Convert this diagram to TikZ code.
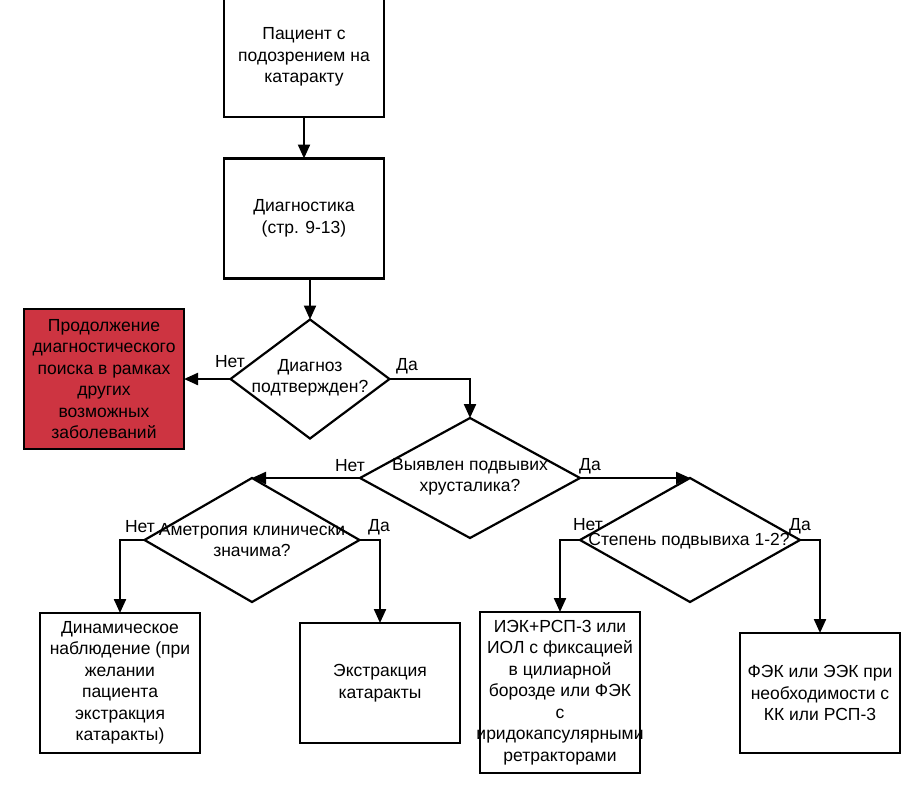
\documentclass[tikz,border=0pt]{standalone}
\usepackage{fontspec}
\setmainfont{Liberation Sans}
\usetikzlibrary{shapes.geometric,arrows.meta}
\definecolor{redbox}{RGB}{205,52,65}
\begin{document}
\begin{tikzpicture}[x=1pt,y=-1pt,
  every node/.style={font=\fontsize{17.5}{21.5}\selectfont},
  box/.style={draw=black,line width=2.2pt,minimum width=160pt,inner sep=0pt,outer sep=0pt,align=center},
  dia/.style={draw=black,line width=2.2pt,diamond,inner sep=0pt,outer sep=0pt},
  dtext/.style={align=center,inner sep=0pt},
  lbl/.style={inner sep=0pt},
  conn/.style={draw=black,line width=2.2pt,-{Triangle[length=14pt,width=12pt]}}
]
\useasboundingbox (0,0) rectangle (907,787);
% boxes
\node[box,minimum height=120pt] (b1) at (304,57) {Пациент с\\подозрением на\\катаракту};
\node[box,minimum height=120pt] (b2) at (304,218.5) {Диагностика\\(стр. 9-13)};
\node[box,fill=redbox,minimum height=140pt] (red) at (104,379) {Продолжение\\диагностического\\поиска в рамках\\других\\возможных\\заболеваний};
\node[box,minimum height=140pt] (dyn) at (120,683) {Динамическое\\наблюдение (при\\желании\\пациента\\экстракция\\катаракты)};
\node[box,minimum height=120pt] (ext) at (380,683) {Экстракция\\катаракты};
\node[box,minimum height=161pt] (iek) at (560,692.5) {ИЭК+РСП-3 или\\ИОЛ с фиксацией\\в цилиарной\\борозде или ФЭК\\с\\\makebox[150pt][c]{иридокапсулярными}\\ретракторами};
\node[box,minimum height=120pt] (fek) at (820,693) {ФЭК или ЭЭК при\\необходимости с\\КК или РСП-3};
% diamonds
\node[dia,minimum width=159pt,minimum height=119pt] (d1) at (310,379) {};
\node[dia,minimum width=220pt,minimum height=120pt] (d2) at (470,478) {};
\node[dia,minimum width=215pt,minimum height=124pt] (d3) at (252,540) {};
\node[dia,minimum width=220pt,minimum height=124pt] (d4) at (690,540) {};
\node[dtext] (t1) at (310,378) {Диагноз\\подтвержден?};
\node[dtext] (t2) at (470,477) {Выявлен подвывих\\хрусталика?};
\node[dtext] (t3) at (252,540) {Аметропия клинически\\значима?};
\node[dtext] (t4) at (689,541) {Степень подвывиха 1-2?};
% labels
\node[lbl] (l1n) at (230,362) {Нет};
\node[lbl] (l1y) at (407,366) {Да};
\node[lbl] (l2n) at (350,466) {Нет};
\node[lbl] (l2y) at (590,466) {Да};
\node[lbl] (l3n) at (140,527) {Нет};
\node[lbl] (l3y) at (379,527) {Да};
\node[lbl] (l4n) at (588,525) {Нет};
\node[lbl] (l4y) at (800,526) {Да};
% connectors
\draw[conn] (b1.south) -- (b2.north);
\draw[conn] (b2.south -| d1.north) -- (d1.north);
\draw[conn] (d1.west) -- (red.east);
\draw[conn] (d1.east) -| (d2.north);
\draw[conn] (d2.west) -- (d3.north);
\draw[conn] (d2.east) -- (d4.north);
\draw[conn] (d3.west) -| (dyn.north);
\draw[conn] (d3.east) -| (ext.north);
\draw[conn] (d4.west) -| (iek.north);
\draw[conn] (d4.east) -| (fek.north);
\end{tikzpicture}
\end{document}
